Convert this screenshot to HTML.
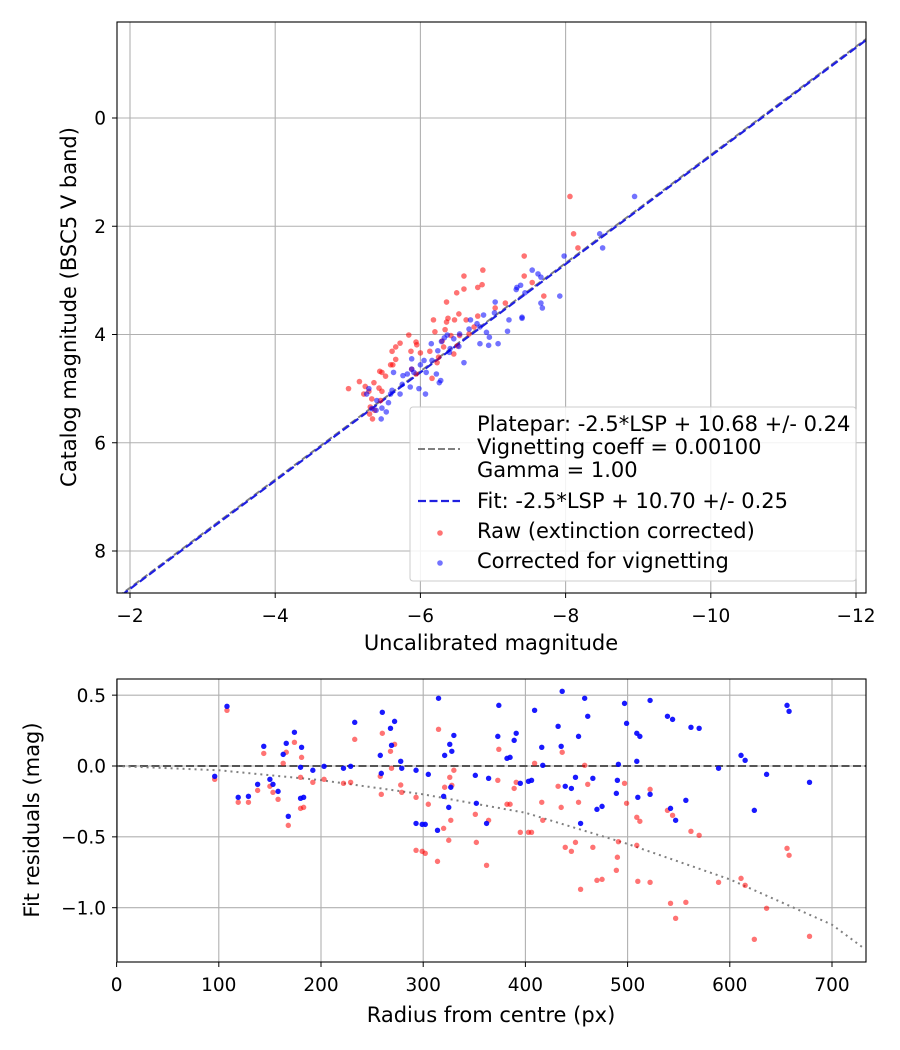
<!DOCTYPE html>
<html><head><meta charset="utf-8"><style>
html,body{margin:0;padding:0;background:#fff;}
svg{display:block;font-family:"DejaVu Sans","Liberation Sans",sans-serif;}
</style></head><body>
<svg id="fig" width="900" height="1050" viewBox="0 0 900 1050" xmlns="http://www.w3.org/2000/svg">
<rect width="900" height="1050" fill="#fff"/>
</svg>
<script>
// ---- Top chart data ----
const topXTicks = [-2,-4,-6,-8,-10,-12];
const topYTicks = [0,2,4,6,8];
const plateparOffset = 10.68;
const fitOffset = 10.70;
const rawU = [-8.06,-8.11,-8.17,-7.43,-6.86,-6.60,-7.43,-7.54,-6.79,-6.85,-6.60,-6.50,-6.36,-7.03,-7.17,-7.70,-6.18,-6.38,-6.53,-6.63,-6.79,-6.36,-6.47,-6.20,-6.34,-6.42,-6.54,-6.67,-6.74,-5.84,-5.72,-5.66,-5.94,-5.95,-5.61,-6.00,-5.87,-6.13,-6.30,-6.32,-6.51,-6.46,-6.25,-6.23,-5.66,-5.59,-5.62,-5.44,-5.47,-5.52,-5.88,-5.94,-6.16,-5.16,-5.01,-5.36,-5.24,-5.43,-5.47,-5.29,-5.22,-5.33,-5.45,-5.31,-5.34,-5.30,-5.37];
const rawC = [1.45,2.14,2.40,2.55,2.81,2.92,2.92,3.04,3.13,3.08,3.16,3.23,3.40,3.51,3.42,3.29,3.73,3.70,3.62,3.73,3.66,3.77,3.73,3.95,3.91,4.02,4.02,3.99,3.86,4.01,4.16,4.23,4.14,4.19,4.31,4.34,4.31,4.31,4.12,4.23,4.21,4.36,4.42,4.52,4.46,4.56,4.56,4.68,4.70,4.77,4.64,4.73,4.81,4.87,5.00,4.89,4.96,4.99,5.05,5.05,5.10,5.19,5.22,5.34,5.56,5.47,5.40];
const corU = [-8.95,-8.47,-8.51,-7.98,-7.54,-7.62,-7.66,-7.33,-7.38,-7.32,-7.44,-7.92,-7.66,-7.68,-7.03,-7.02,-6.87,-7.22,-7.40,-7.40,-6.69,-6.78,-6.82,-6.91,-6.95,-6.82,-6.94,-7.07,-7.20,-6.67,-6.54,-6.46,-6.37,-6.33,-6.29,-6.41,-6.53,-6.40,-6.60,-6.15,-6.24,-6.16,-6.05,-6.00,-6.08,-6.22,-6.28,-6.26,-5.88,-5.88,-5.91,-5.82,-5.76,-5.63,-5.75,-5.86,-5.98,-6.07,-5.72,-5.61,-5.59,-5.29,-5.26,-5.40,-5.56,-5.47,-5.53,-5.39,-5.46,-5.33];
const corC = [1.45,2.14,2.40,2.55,2.81,2.88,2.94,3.13,3.09,3.17,3.23,3.29,3.42,3.51,3.40,3.60,3.64,3.73,3.68,3.70,3.73,3.80,3.86,3.96,4.05,4.17,4.20,4.17,3.94,3.90,3.99,4.08,4.01,4.06,4.13,4.26,4.22,4.33,4.52,4.17,4.30,4.48,4.48,4.56,4.70,4.73,4.85,4.89,4.45,4.64,4.70,4.73,4.76,4.70,4.92,4.97,5.00,5.10,5.10,5.03,5.10,5.00,5.10,5.22,5.26,5.36,5.43,5.40,5.56,5.37];

// ---- Bottom chart data ----
const botXTicks = [0,100,200,300,400,500,600,700];
const botYTicks = [0.5,0.0,-0.5,-1.0];
const botYLabels = ["0.5","0.0","\u22120.5","\u22121.0"];
const radius = [96,108,119,129,138,144,150,153,158,163,166,168,174,180,181,180,183,192,203,222,229,233,258,259,260,268,269,272,278,279,293,293,299,302,305,314,315,320,321,325,326,327,328,330,351,352,362,364,
374,373,391,389,382,385,395,403,406,409,416,417,432,435,436,439,445,449,452,454,458,461,466,470,475,489,490,491,497,499,509,512,509,510,522,522,539,544,542,547,557,562,570,589,611,615,624,636,656,658,678];
const resRaw = [-0.094,0.393,-0.256,-0.256,-0.172,0.089,-0.143,-0.186,-0.235,0.019,0.097,-0.419,0.167,-0.080,0.061,-0.299,-0.292,-0.115,-0.094,-0.122,-0.115,0.188,-0.073,-0.200,0.231,0.104,-0.016,0.153,-0.134,-0.186,-0.221,-0.595,-0.602,-0.616,-0.270,-0.673,0.259,-0.440,-0.150,-0.524,-0.080,-0.383,-0.136,-0.030,-0.341,-0.539,-0.701,-0.383,
0.118,-0.101,-0.115,-0.158,-0.270,-0.270,-0.468,-0.468,-0.468,0.019,-0.256,-0.383,-0.143,-0.292,0.097,-0.574,-0.602,-0.539,-0.256,-0.870,0.005,-0.129,-0.574,-0.807,-0.800,-0.736,-0.644,-0.534,-0.122,-0.263,-0.362,-0.390,-0.560,-0.814,-0.165,-0.821,-0.313,-0.348,-0.969,-1.075,-0.962,-0.461,-0.489,-0.821,-0.793,-0.842,-1.223,-1.004,-0.581,-0.630,-1.202];
const resCor = [-0.073,0.421,-0.221,-0.214,-0.129,0.139,-0.094,-0.129,-0.179,0.082,0.160,-0.355,0.238,-0.009,0.132,-0.228,-0.221,-0.030,-0.002,-0.016,-0.002,0.308,0.075,-0.052,0.379,0.266,0.146,0.315,0.033,-0.016,-0.030,-0.405,-0.412,-0.412,-0.059,-0.454,0.478,-0.214,0.075,-0.292,0.153,-0.150,0.104,0.216,-0.066,-0.263,-0.405,-0.087,
0.428,0.209,0.231,0.181,0.054,0.061,-0.122,-0.108,-0.101,0.393,0.132,0.005,0.280,0.139,0.527,-0.143,-0.158,-0.080,0.209,-0.405,0.478,0.351,-0.087,-0.306,-0.285,-0.193,-0.101,0.012,0.442,0.301,0.231,0.209,0.033,-0.221,0.463,-0.200,0.351,0.329,-0.299,-0.383,-0.242,0.273,0.266,-0.016,0.075,0.040,-0.313,-0.059,0.428,0.386,-0.115];
const vigR = [0,100,200,300,400,500,600,700,730];
const vigV = [0,-0.03,-0.10,-0.20,-0.33,-0.55,-0.80,-1.12,-1.28];

const NS="http://www.w3.org/2000/svg";
const svg=document.getElementById('fig');
function mk(tag,attrs,parent){const e=document.createElementNS(NS,tag);for(const k in attrs)e.setAttribute(k,attrs[k]);(parent||svg).appendChild(e);return e;}
function txt(s,attrs,parent){const e=mk('text',attrs,parent);e.textContent=s;return e;}
const minus=v=>String(v).replace('-','\u2212');
const FT=18.5, FL=21;

// ---- Top axes ----
const T={l:117,t:22,r:866,b:593};
const tx=v=>130+(-2-v)*72.6;
const ty=v=>118+v*54.125;
const gTop=mk('g',{});


const cp1=mk('clipPath',{id:'c1'});mk('rect',{x:T.l,y:T.t,width:T.r-T.l,height:T.b-T.t},cp1);
topXTicks.forEach(v=>{
  const l=mk('line',{x1:tx(v),x2:tx(v),y1:T.t,y2:T.b,stroke:'#b0b0b0','stroke-width':1.1},gTop);
  
  mk('line',{x1:tx(v),x2:tx(v),y1:T.b,y2:T.b+5,stroke:'#000','stroke-width':1},gTop);
  const t=txt(minus(v),{x:tx(v),y:T.b+29,'text-anchor':'middle','font-size':FT},gTop);
  
});
topYTicks.forEach(v=>{
  const l=mk('line',{x1:T.l,x2:T.r,y1:ty(v),y2:ty(v),stroke:'#b0b0b0','stroke-width':1.1},gTop);
  
  mk('line',{x1:T.l-5,x2:T.l,y1:ty(v),y2:ty(v),stroke:'#000','stroke-width':1},gTop);
  const t=txt(minus(v),{x:T.l-11,y:ty(v)+6.7,'text-anchor':'end','font-size':FT},gTop);
  
});
const gClip1=mk('g',{'clip-path':'url(#c1)'},gTop);
const pl=mk('line',{x1:tx(-1.5),y1:ty(-1.5+plateparOffset),x2:tx(-12.5),y2:ty(-12.5+plateparOffset),stroke:'#808080','stroke-width':2,'stroke-dasharray':'7,3'},gClip1);

const fl=mk('line',{x1:tx(-1.5),y1:ty(-1.5+fitOffset),x2:tx(-12.5),y2:ty(-12.5+fitOffset),stroke:'#2020e0','stroke-width':2.2,'stroke-dasharray':'8,3.5'},gClip1);

rawU.forEach((u,i)=>{
  const c=mk('circle',{cx:tx(u),cy:ty(rawC[i]),r:2.8,fill:'#ff0000','fill-opacity':0.55},gClip1);
  
});
corU.forEach((u,i)=>{
  const c=mk('circle',{cx:tx(u),cy:ty(corC[i]),r:2.8,fill:'#0000ff','fill-opacity':0.55},gClip1);
  
});
mk('rect',{x:T.l,y:T.t,width:T.r-T.l,height:T.b-T.t,fill:'none',stroke:'#000','stroke-width':1.1},gTop);
const xl1=txt('Uncalibrated magnitude',{x:491,y:650,'text-anchor':'middle','font-size':FL},gTop);

const yl1=txt('Catalog magnitude (BSC5 V band)',{x:0,y:0,'text-anchor':'middle','font-size':FL,transform:'translate(76,307) rotate(-90)'},gTop);


// legend
const lg=mk('g',{},gTop);

mk('rect',{x:410,y:407,width:446,height:174,rx:3,fill:'#fff','fill-opacity':0.85,stroke:'#ccc','stroke-width':1},lg);
const legLines=[['Platepar: -2.5*LSP + 10.68 +/- 0.24',431],['Vignetting coeff = 0.00100',454],['Gamma = 1.00',477],['Fit: -2.5*LSP + 10.70 +/- 0.25',508],['Raw (extinction corrected)',538],['Corrected for vignetting',568]];
legLines.forEach(([s,y])=>{const t=txt(s,{x:477,y:y,'font-size':FL},lg);});
mk('line',{x1:418,x2:460,y1:449,y2:449,stroke:'#808080','stroke-width':2,'stroke-dasharray':'7,3'},lg);
mk('line',{x1:418,x2:460,y1:501,y2:501,stroke:'#2020e0','stroke-width':2.2,'stroke-dasharray':'8,3.5'},lg);
mk('circle',{cx:440,cy:533,r:2.8,fill:'#ff0000','fill-opacity':0.55},lg);
mk('circle',{cx:440,cy:563,r:2.8,fill:'#0000ff','fill-opacity':0.55},lg);

// ---- Bottom axes ----
const B={l:117,t:679,r:866,b:962};
const bx=v=>116.6+v*1.022;
const by=v=>766-v*141.7;
const gBot=mk('g',{});


const cp2=mk('clipPath',{id:'c2'});mk('rect',{x:B.l,y:B.t,width:B.r-B.l,height:B.b-B.t},cp2);
botXTicks.forEach(v=>{
  const l=mk('line',{x1:bx(v),x2:bx(v),y1:B.t,y2:B.b,stroke:'#b0b0b0','stroke-width':1.1},gBot);
  
  mk('line',{x1:bx(v),x2:bx(v),y1:B.b,y2:B.b+5,stroke:'#000','stroke-width':1},gBot);
  const t=txt(String(v),{x:bx(v),y:B.b+29,'text-anchor':'middle','font-size':FT},gBot);
  
});
botYTicks.forEach((v,i)=>{
  const l=mk('line',{x1:B.l,x2:B.r,y1:by(v),y2:by(v),stroke:'#b0b0b0','stroke-width':1.1},gBot);
  
  mk('line',{x1:B.l-5,x2:B.l,y1:by(v),y2:by(v),stroke:'#000','stroke-width':1},gBot);
  const t=txt(botYLabels[i],{x:B.l-11,y:by(v)+6.7,'text-anchor':'end','font-size':FT},gBot);
  
});
const gClip2=mk('g',{'clip-path':'url(#c2)'},gBot);
const zl=mk('line',{x1:B.l,x2:B.r,y1:by(0),y2:by(0),stroke:'#555','stroke-width':2,'stroke-dasharray':'8,3.5'},gClip2);

const vp=mk('polyline',{points:vigR.map((r,i)=>bx(r)+','+by(vigV[i])).join(' '),fill:'none',stroke:'#808080','stroke-width':2,'stroke-dasharray':'2,4'},gClip2);

radius.forEach((r,i)=>{
  const c=mk('circle',{cx:bx(r),cy:by(resRaw[i]),r:2.7,fill:'#ff0000','fill-opacity':0.55},gClip2);
  
});
radius.forEach((r,i)=>{
  const c=mk('circle',{cx:bx(r),cy:by(resCor[i]),r:2.7,fill:'#0000ff','fill-opacity':0.9},gClip2);
  
});
mk('rect',{x:B.l,y:B.t,width:B.r-B.l,height:B.b-B.t,fill:'none',stroke:'#000','stroke-width':1.1},gBot);
const xl2=txt('Radius from centre (px)',{x:491,y:1022,'text-anchor':'middle','font-size':FL},gBot);

const yl2=txt('Fit residuals (mag)',{x:0,y:0,'text-anchor':'middle','font-size':FL,transform:'translate(39,820) rotate(-90)'},gBot);

</script>
</body></html>
